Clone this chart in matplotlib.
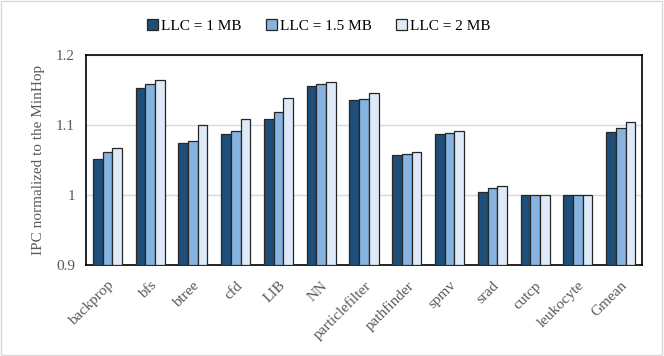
import matplotlib.pyplot as plt
import numpy as np

plt.rcParams['font.family'] = ['Liberation Serif', 'DejaVu Serif']

# Benchmarks and normalized IPC for each LLC size
benchmarks = ['backprop', 'bfs', 'btree', 'cfd', 'LIB', 'NN', 'particlefilter',
              'pathfinder', 'spmv', 'srad', 'cutcp', 'leukocyte', 'Gmean']
llc_1mb = [1.052, 1.153, 1.074, 1.087, 1.109, 1.156, 1.135, 1.057, 1.087, 1.004, 1.0, 1.0, 1.090]
llc_15mb = [1.061, 1.158, 1.077, 1.092, 1.118, 1.159, 1.137, 1.058, 1.089, 1.010, 1.0, 1.0, 1.095]
llc_2mb = [1.067, 1.164, 1.100, 1.109, 1.138, 1.162, 1.145, 1.061, 1.091, 1.013, 1.0, 1.0, 1.104]
series_labels = ['LLC = 1 MB', 'LLC = 1.5 MB', 'LLC = 2 MB']

colors = ['#1F4E79', '#86B3E0', '#DEEAF7']

fig = plt.figure(figsize=(6.64, 3.56), dpi=100)
fig.patches.append(plt.Rectangle((0.002, 0.003), 0.995, 0.994, transform=fig.transFigure,
                                 fill=False, edgecolor='#D9D9D9', linewidth=1))
ax = fig.add_axes([0.1295, 0.2556, 0.8375, 0.59])

x = np.arange(len(benchmarks))
w = 0.227
for i, (vals, col, lab) in enumerate(zip([llc_1mb, llc_15mb, llc_2mb], colors, series_labels)):
    ax.bar(x + (i - 1) * w, np.array(vals) - 0.9, w, bottom=0.9, color=col,
           edgecolor='#262626', linewidth=0.9, label=lab, zorder=3)

ax.set_ylim(0.9, 1.2)
ax.set_xlim(-0.5, len(benchmarks) - 0.5)
ax.set_yticks([0.9, 1.0, 1.1, 1.2])
ax.set_yticklabels(['0.9', '1', '1.1', '1.2'])
ax.yaxis.grid(True, color='#D9D9D9', linewidth=1, zorder=0)
ax.set_xticks(x)
ax.set_xticklabels(benchmarks, rotation=45, ha='right', rotation_mode='anchor')
ax.tick_params(axis='x', length=0, labelsize=11, colors='#595959', pad=10)
ax.tick_params(axis='y', length=0, labelsize=11, colors='#595959', pad=8)
for s in ax.spines.values():
    s.set_color('black')
    s.set_linewidth(1.2)
ax.set_ylabel('IPC normalized to the MinHop', fontsize=11, color='#595959', labelpad=8)

fig.legend(loc='upper center', bbox_to_anchor=(0.48, 0.985), ncol=3, frameon=False,
           fontsize=11, handlelength=0.7, handleheight=0.7, handletextpad=0.2,
           columnspacing=1.6)

fig.savefig('out.png', dpi=100)
